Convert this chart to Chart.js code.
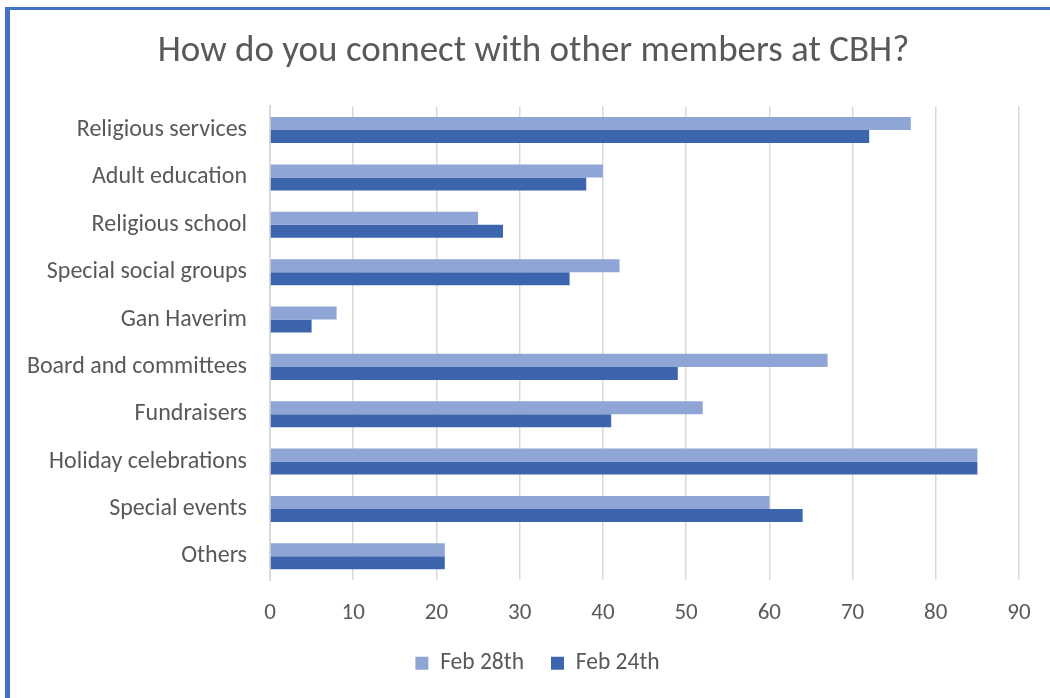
<!DOCTYPE html>
<html>
<head>
<meta charset="utf-8">
<script src="https://cdn.jsdelivr.net/npm/chart.js@4.4.0/dist/chart.umd.min.js"></script>
<style>
	body { margin: 0; background: #fff; }
	#wrap { position: relative; width: 1050px; height: 698px; }
	#frame {
		position: absolute; left: 5px; top: 7px; right: 0; bottom: 0;
		border-left: 5px solid #4472c4; border-top: 3px solid #4472c4;
		pointer-events: none;
	}
</style>
</head>
<body>
<div id="wrap">
	<canvas id="chart-connect" width="1050" height="698"></canvas>
	<div id="frame"></div>
</div>
<script>
// Data
const categories = [
	'Religious services',
	'Adult education',
	'Religious school',
	'Special social groups',
	'Gan Haverim',
	'Board and committees',
	'Fundraisers',
	'Holiday celebrations',
	'Special events',
	'Others',
];
const feb28 = [77, 40, 25, 42, 8, 67, 52, 85, 60, 21];
const feb24 = [72, 38, 28, 36, 5, 49, 41, 85, 64, 21];
const xTicks = [0, 10, 20, 30, 40, 50, 60, 70, 80, 90];

const textColor = '#595959';
const fontFamily = 'Carlito, "Open Sans", sans-serif';

// Excel centres title and legend over the whole frame, not the padded box
const shiftBlocks = {
	id: 'shiftBlocks',
	afterLayout(chart) {
		const t = chart.titleBlock;
		t.left += 14;
		t.right += 14;
		const l = chart.legend;
		l.left += 18;
		l.right += 18;
	},
};

!(function () {
	const ctx = document.getElementById('chart-connect');

	new Chart(ctx, {
		type: 'bar',
		data: {
			labels: categories,
			datasets: [
				{
					label: 'Feb 28th',
					data: feb28,
					backgroundColor: '#8fa5d5',
					categoryPercentage: 0.55,
					barPercentage: 1.0,
				},
				{
					label: 'Feb 24th',
					data: feb24,
					backgroundColor: '#3c65ae',
					categoryPercentage: 0.55,
					barPercentage: 1.0,
				},
			],
		},
		plugins: [shiftBlocks],
		options: {
			indexAxis: 'y',
			responsive: false,
			animation: false,
			layout: {
				padding: { left: 20, right: 31, top: 0, bottom: 13 },
			},
			scales: {
				x: {
					min: 0,
					max: 90,
					afterBuildTicks: (scale) => {
						scale.ticks = xTicks.map((v) => ({ value: v }));
					},
					afterFit: (scale) => {
						scale.height = 44.5; // plot bottom at y=580
					},
					grid: {
						color: '#d9d9d9',
						lineWidth: 1.5,
						drawTicks: false,
					},
					border: { display: false },
					ticks: {
						color: textColor,
						padding: 19,
						font: { family: fontFamily, size: 23 },
					},
				},
				y: {
					afterFit: (scale) => {
						scale.width = 250; // plot starts at x=270
					},
					grid: { display: false, drawTicks: false },
					border: { display: true, color: '#d9d9d9', width: 2 },
					ticks: {
						color: textColor,
						padding: 23,
						crossAlign: 'near',
						font: { family: fontFamily, size: 24 },
					},
				},
			},
			plugins: {
				title: {
					display: true,
					text: 'How do you connect with other members at CBH?',
					color: textColor,
					font: { family: fontFamily, size: 37, weight: 'normal' },
					padding: { top: 30, bottom: 32 },
				},
				legend: {
					position: 'bottom',
					labels: {
						color: textColor,
						boxWidth: 13,
						boxHeight: 13,
						padding: 27,
						font: { family: fontFamily, size: 23.5 },
					},
				},
				tooltip: { enabled: false },
			},
		},
	});
})();
</script>
</body>
</html>
